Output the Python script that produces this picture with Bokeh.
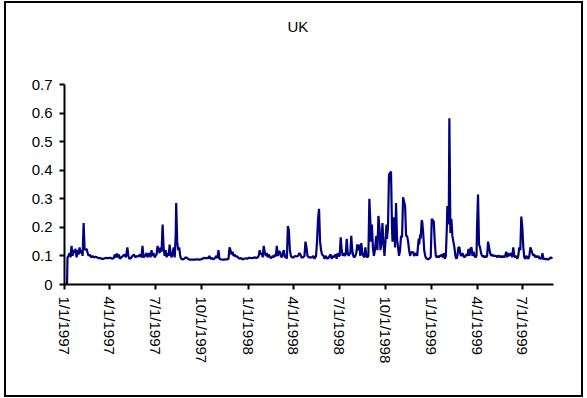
import datetime as dt
from bokeh.plotting import figure
from bokeh.models import ColumnDataSource, FixedTicker, CustomJSTickFormatter, Range1d, Title
from bokeh.embed import file_html
from bokeh.resources import INLINE

start_date = "1997-01-01"
end_day = 972

day_offsets = [
    5, 6, 8, 10, 12, 14, 16, 18, 20, 22, 24, 26, 28, 30, 32, 34, 36, 38, 40, 42, 44, 46, 48, 50, 53, 56, 59, 62, 65, 68, 71, 74, 77, 80, 83, 86, 89, 92,
    95, 98, 100, 102, 104, 106, 108, 110, 113, 116, 119, 122, 125, 127, 129, 132, 135, 138, 141, 144, 147, 150, 153, 155, 157, 160, 163, 165, 167, 169, 171, 173, 175, 177, 179, 181,
    183, 185, 187, 189, 191, 193, 195, 197, 199, 201, 203, 205, 207, 209, 211, 213, 215, 217, 219, 221, 222, 224, 226, 228, 230, 232, 235, 238, 241, 244, 247, 250, 253, 256, 259, 262, 265, 268, 271, 274,
    277, 280, 283, 286, 288, 290, 293, 296, 299, 302, 304, 306, 308, 311, 314, 317, 320, 323, 326, 328, 330, 332, 334, 336, 338, 340, 342, 345, 348, 351, 354, 357, 360, 363,
    366, 369, 372, 375, 378, 381, 384, 386, 388, 390, 392, 394, 396, 398, 400, 402, 404, 406, 408, 410, 412, 414, 416, 418, 420, 422, 424, 426, 428, 430, 432, 434, 436, 438, 440, 442, 444, 446, 448, 450, 452,
    455, 458, 461, 464, 467, 469, 471, 474, 477, 479, 481, 483, 486, 489, 492, 495, 497, 500, 502, 504, 506, 508, 510, 512, 515, 517, 519, 521, 523, 525, 527, 529, 531, 533, 535, 537, 539, 541, 543,
    545, 547, 549, 551, 553, 555, 557, 559, 561, 563, 565, 567, 568, 570, 572, 574, 576, 578, 580, 582, 584, 586, 588, 590, 592, 594, 596, 598, 600, 602, 604, 606, 608, 609, 611, 613, 615, 617, 619, 620, 622, 624, 626, 628, 630, 632, 634, 636, 638,
    640, 641, 643, 645, 647, 649, 651, 652, 654, 656, 657, 659, 661, 663, 665, 667, 669, 671, 673, 675, 677, 679, 681, 683, 685, 687, 689, 691, 693, 695, 697, 699, 701, 702, 704, 705, 707, 708, 710, 711, 713, 715, 717, 719, 721, 723, 725, 727, 728, 730,
    732, 734, 736, 738, 740, 742, 744, 746, 748, 750, 752, 754, 756, 758, 760, 761, 763, 764, 765, 766, 767, 769, 771, 773, 775, 777, 779, 781, 783, 785, 787, 789, 791, 793, 795, 797, 799, 801, 803, 805, 807, 809, 811, 813, 815, 817, 819, 820,
    822, 824, 826, 828, 830, 832, 834, 836, 838, 840, 842, 844, 846, 848, 850, 852, 854, 856, 858, 860, 862, 864, 866, 868, 870, 872, 874, 876, 878, 880, 882, 884, 886, 888, 890, 892, 894, 896, 898, 900, 902, 904, 906, 908, 910,
    912, 914, 916, 918, 920, 922, 924, 926, 928, 930, 932, 934, 936, 938, 940, 942, 944, 946, 948, 950, 952, 954, 956, 958, 960, 962, 964, 966, 968, 970,
]

uk_values = [
    0.0, 0.095, 0.10, 0.11, 0.095, 0.135, 0.10, 0.12, 0.11, 0.125, 0.095, 0.12, 0.105, 0.13, 0.11, 0.12, 0.10, 0.215, 0.125, 0.12, 0.125, 0.11, 0.10, 0.105, 0.095, 0.10, 0.095, 0.097, 0.095, 0.092, 0.093, 0.09, 0.09, 0.092, 0.093, 0.092, 0.093, 0.093,
    0.09, 0.093, 0.105, 0.095, 0.108, 0.095, 0.105, 0.09, 0.095, 0.10, 0.105, 0.095, 0.13, 0.10, 0.09, 0.092, 0.10, 0.105, 0.095, 0.10, 0.098, 0.105, 0.095, 0.135, 0.095, 0.10, 0.11, 0.095, 0.105, 0.11, 0.095, 0.12, 0.10, 0.11, 0.095, 0.10,
    0.105, 0.135, 0.12, 0.11, 0.13, 0.115, 0.21, 0.13, 0.10, 0.12, 0.095, 0.11, 0.10, 0.14, 0.105, 0.095, 0.11, 0.13, 0.095, 0.17, 0.285, 0.15, 0.12, 0.13, 0.10, 0.09, 0.088, 0.09, 0.095, 0.093, 0.088, 0.087, 0.087, 0.087, 0.087, 0.088, 0.088, 0.087, 0.088, 0.09,
    0.093, 0.092, 0.093, 0.092, 0.10, 0.09, 0.093, 0.088, 0.092, 0.10, 0.092, 0.12, 0.09, 0.088, 0.087, 0.087, 0.088, 0.088, 0.09, 0.13, 0.12, 0.105, 0.115, 0.10, 0.105, 0.098, 0.10, 0.095, 0.09, 0.093, 0.088, 0.09, 0.092, 0.09,
    0.093, 0.093, 0.092, 0.093, 0.095, 0.093, 0.095, 0.10, 0.12, 0.105, 0.11, 0.095, 0.135, 0.115, 0.10, 0.11, 0.095, 0.105, 0.098, 0.092, 0.095, 0.10, 0.095, 0.105, 0.098, 0.135, 0.10, 0.115, 0.115, 0.10, 0.095, 0.11, 0.12, 0.095, 0.10, 0.09, 0.205, 0.19, 0.12, 0.10, 0.095,
    0.095, 0.10, 0.098, 0.10, 0.11, 0.105, 0.095, 0.095, 0.10, 0.15, 0.13, 0.10, 0.095, 0.095, 0.095, 0.10, 0.09, 0.10, 0.15, 0.23, 0.265, 0.15, 0.12, 0.105, 0.10, 0.09, 0.10, 0.095, 0.09, 0.095, 0.10, 0.105, 0.09, 0.10, 0.095, 0.10, 0.105, 0.09, 0.11, 0.10,
    0.10, 0.165, 0.12, 0.10, 0.11, 0.10, 0.105, 0.16, 0.11, 0.10, 0.11, 0.105, 0.17, 0.12, 0.10, 0.095, 0.10, 0.11, 0.14, 0.12, 0.14, 0.10, 0.145, 0.11, 0.10, 0.095, 0.13, 0.10, 0.095, 0.10, 0.30, 0.22, 0.15, 0.21, 0.13, 0.10, 0.12, 0.16, 0.17, 0.12, 0.24, 0.20, 0.12, 0.15, 0.215, 0.14, 0.10, 0.15, 0.21,
    0.16, 0.20, 0.385, 0.39, 0.395, 0.20, 0.15, 0.235, 0.20, 0.13, 0.285, 0.16, 0.13, 0.10, 0.12, 0.17, 0.165, 0.305, 0.29, 0.275, 0.17, 0.17, 0.15, 0.12, 0.10, 0.115, 0.11, 0.115, 0.10, 0.105, 0.11, 0.10, 0.12, 0.16, 0.14, 0.175, 0.16, 0.225, 0.22, 0.18, 0.12, 0.10, 0.092, 0.09, 0.088, 0.09, 0.095, 0.095, 0.23, 0.225,
    0.22, 0.15, 0.10, 0.095, 0.10, 0.095, 0.10, 0.10, 0.105, 0.095, 0.11, 0.09, 0.10, 0.20, 0.275, 0.21, 0.28, 0.582, 0.40, 0.18, 0.23, 0.17, 0.15, 0.13, 0.10, 0.09, 0.10, 0.13, 0.13, 0.105, 0.10, 0.11, 0.10, 0.095, 0.10, 0.105, 0.10, 0.125, 0.10, 0.125, 0.13, 0.10, 0.115, 0.10, 0.095, 0.10, 0.20, 0.315,
    0.14, 0.13, 0.11, 0.10, 0.10, 0.095, 0.10, 0.095, 0.10, 0.15, 0.13, 0.11, 0.10, 0.105, 0.10, 0.10, 0.10, 0.10, 0.095, 0.10, 0.10, 0.095, 0.10, 0.095, 0.10, 0.095, 0.10, 0.115, 0.095, 0.11, 0.10, 0.105, 0.11, 0.095, 0.13, 0.10, 0.095, 0.10, 0.09, 0.10, 0.13, 0.12, 0.238, 0.20, 0.13,
    0.095, 0.09, 0.10, 0.095, 0.09, 0.10, 0.13, 0.12, 0.11, 0.10, 0.105, 0.095, 0.10, 0.095, 0.10, 0.09, 0.095, 0.088, 0.11, 0.09, 0.09, 0.088, 0.09, 0.088, 0.088, 0.09, 0.095, 0.093, 0.095, 0.095,
]

tick_dates = ["1997-01-01", "1997-04-01", "1997-07-01", "1997-10-01",
              "1998-01-01", "1998-04-01", "1998-07-01", "1998-10-01",
              "1999-01-01", "1999-04-01", "1999-07-01"]
y_ticks = [0, 0.1, 0.2, 0.3, 0.4, 0.5, 0.6, 0.7]
title_text = "UK"

t0 = dt.datetime.fromisoformat(start_date)
dates = [t0 + dt.timedelta(days=d) for d in day_offsets]
src = ColumnDataSource(data=dict(date=dates, value=uk_values))

def ms(d):
    return (d - dt.datetime(1970, 1, 1)).total_seconds() * 1000.0

FONT = "Liberation Sans"

p = figure(width=579, height=396, x_axis_type="datetime",
           output_backend="svg", toolbar_location=None,
           min_border_left=58, min_border_right=32, min_border_top=81, min_border_bottom=115)
p.styles = {"border": "2px solid black", "margin-left": "4px", "margin-top": "1px",
            "box-sizing": "border-box"}
p.x_range = Range1d(ms(t0), ms(t0 + dt.timedelta(days=end_day)))
p.y_range = Range1d(0, 0.7)

p.line("date", "value", source=src, line_color="#000080", line_width=2.2)

# empty spacer next to the frame, then the chart title above it
p.add_layout(Title(text=" ", standoff=31, text_font=FONT, text_font_size="15px"), "above")
p.add_layout(Title(text=title_text, align="left", offset=223, standoff=0,
                   text_font=FONT, text_font_size="15px", text_font_style="normal",
                   text_color="black"), "above")

p.xgrid.visible = False
p.ygrid.visible = False
p.outline_line_color = None

p.xaxis.ticker = FixedTicker(ticks=[ms(dt.datetime.fromisoformat(d)) for d in tick_dates])
p.xaxis.formatter = CustomJSTickFormatter(code="""
const d = new Date(tick);
return (d.getUTCMonth() + 1) + '/' + d.getUTCDate() + '/' + d.getUTCFullYear();
""")
p.xaxis.major_label_orientation = "vertical"

p.yaxis.ticker = FixedTicker(ticks=y_ticks)
p.yaxis.formatter = CustomJSTickFormatter(code="return tick.toFixed(1).replace(/\\.0$/, '');")

for ax in (p.xaxis[0], p.yaxis[0]):
    ax.axis_line_color = "black"
    ax.axis_line_width = 2
    ax.major_tick_line_color = "black"
    ax.major_tick_line_width = 2
    ax.major_tick_out = 5
    ax.major_tick_in = 0
    ax.minor_tick_line_color = None
    ax.major_label_text_font = FONT
    ax.major_label_text_font_size = "15px"
    ax.major_label_text_color = "black"
    ax.major_label_standoff = 7

open("out.html", "w").write(file_html(p, INLINE))
